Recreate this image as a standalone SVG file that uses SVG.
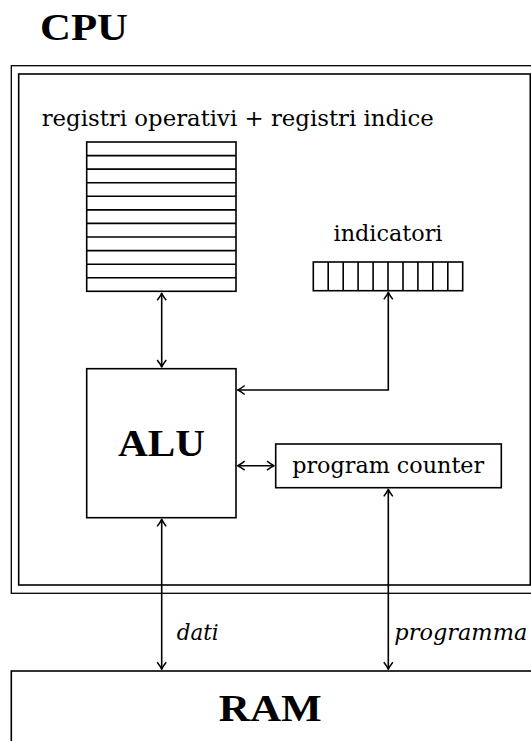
<svg xmlns="http://www.w3.org/2000/svg" width="531" height="741" viewBox="0 0 531 741">
  <defs>
    <style>
      .box { fill: #fff; stroke: #000; stroke-width: 1.6; }
      .wire { fill: none; stroke: #000; stroke-width: 1.6; }
      text { fill: #000; }
      .lbl { font-family: "DejaVu Serif", "Liberation Serif", serif; font-size: 22px; }
      .big { font-family: "Liberation Serif", "DejaVu Serif", serif; font-size: 38px; font-weight: bold; }
      .it { font-style: italic; }
    </style>
    <marker id="tip" viewBox="-10 -6 12 12" refX="0" refY="0" markerWidth="12" markerHeight="12" markerUnits="userSpaceOnUse" orient="auto-start-reverse">
      <path d="M -7 -4.5 Q -2.5 -1 0 0 Q -2.5 1 -7 4.5" fill="none" stroke="#000" stroke-width="1.5" stroke-linejoin="round"/>
    </marker>
  </defs>

  <!-- title -->
  <text class="big" x="40" y="40" textLength="88" lengthAdjust="spacingAndGlyphs">CPU</text>

  <!-- CPU enclosure: double frame -->
  <g id="cpu">
    <rect x="11.3" y="65.7" width="530" height="527.6" fill="none" stroke="#000" stroke-width="1.3"/>
    <rect x="18.7" y="74" width="511.6" height="511" fill="none" stroke="#000" stroke-width="1.6"/>
  </g>

  <!-- register file -->
  <g id="registri">
    <text class="lbl" x="41.7" y="126" textLength="392" lengthAdjust="spacingAndGlyphs">registri operativi + registri indice</text>
    <rect class="box" x="86.7" y="142" width="149.3" height="149.3"/>
    <path class="wire" d="M86.7 155.6H236 M86.7 169.1H236 M86.7 182.7H236 M86.7 196.3H236 M86.7 209.9H236 M86.7 223.4H236 M86.7 237H236 M86.7 250.6H236 M86.7 264.2H236 M86.7 277.7H236"/>
  </g>

  <!-- flags register -->
  <g id="indicatori">
    <text class="lbl" x="388" y="240.7" text-anchor="middle" textLength="109" lengthAdjust="spacingAndGlyphs">indicatori</text>
    <rect class="box" x="313.3" y="262" width="149.4" height="28.7"/>
    <path class="wire" d="M328.2 262V290.7 M343.2 262V290.7 M358.1 262V290.7 M373.1 262V290.7 M388 262V290.7 M403 262V290.7 M417.9 262V290.7 M432.8 262V290.7 M447.8 262V290.7"/>
  </g>

  <!-- arithmetic logic unit -->
  <g id="alu">
    <rect class="box" x="86.7" y="368.7" width="149.3" height="149"/>
    <text class="big" x="161.5" y="456" text-anchor="middle" textLength="87" lengthAdjust="spacingAndGlyphs">ALU</text>
  </g>

  <!-- program counter -->
  <g id="pc">
    <rect class="box" x="275.7" y="444" width="225.6" height="43.7"/>
    <text class="lbl" x="388.2" y="472.7" text-anchor="middle" textLength="192" lengthAdjust="spacingAndGlyphs">program counter</text>
  </g>

  <!-- main memory -->
  <g id="ram">
    <rect x="11.3" y="671" width="540" height="100" fill="#fff" stroke="#000" stroke-width="1.6"/>
    <text class="big" x="270.3" y="721" text-anchor="middle" textLength="103" lengthAdjust="spacingAndGlyphs">RAM</text>
  </g>

  <!-- connectors -->
  <g id="connectors">
    <path class="wire" d="M161.7 293.2V367" marker-start="url(#tip)" marker-end="url(#tip)"/>
    <path class="wire" d="M237.7 390H388.3V292.4" marker-start="url(#tip)" marker-end="url(#tip)"/>
    <path class="wire" d="M237.7 465.7H274" marker-start="url(#tip)" marker-end="url(#tip)"/>
    <path class="wire" d="M161.7 519.4V669.3" marker-start="url(#tip)" marker-end="url(#tip)"/>
    <path class="wire" d="M388.3 489.4V669.3" marker-start="url(#tip)" marker-end="url(#tip)"/>
    <text class="lbl it" x="176.7" y="640" textLength="42" lengthAdjust="spacingAndGlyphs">dati</text>
    <text class="lbl it" x="394.3" y="640" textLength="133" lengthAdjust="spacingAndGlyphs">programma</text>
  </g>
</svg>
